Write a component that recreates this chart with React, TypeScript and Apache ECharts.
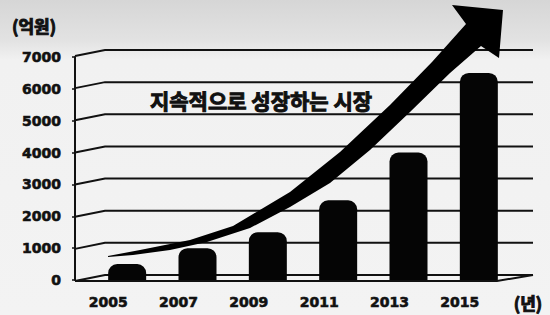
import React, { useEffect, useRef } from "react";
import * as echarts from "echarts";

const years = ["2005", "2007", "2009", "2011", "2013", "2015"];
const revenue = [500, 1000, 1500, 2500, 4000, 6500];
const yMin = 0;
const yMax = 7000;
const yInterval = 1000;
const gridValues = [0, 1000, 2000, 3000, 4000, 5000, 6000, 7000];
const unitLabel = "(억원)";
const yearUnit = "(년)";
const headline = "지속적으로 성장하는 시장";

// decorative growth arrow outline
const arrowPoints = [
  [108, 256], [140, 250], [190, 240], [233, 226], [290, 192], [340, 152],
  [390, 105], [432, 62], [466, 24],
  [452, 5], [503, 10], [499, 58],
  [481, 46], [450, 73], [410, 112], [370, 150], [330, 183], [290, 207],
  [250, 228], [207, 242], [170, 250], [133, 255], [108, 257],
];

const KR = "'Noto Sans CJK KR', 'Noto Sans', sans-serif";
const NUM = "'DejaVu Sans', sans-serif";

export default function App() {
  const ref = useRef<HTMLDivElement>(null);
  useEffect(() => {
    if (!ref.current) return;
    const chart = echarts.init(ref.current, undefined, { renderer: "svg" });
    const lineStyle = { stroke: "#111", lineWidth: 2, fill: "none" };
    const numLabel = {
      color: "#111",
      fontWeight: "bold",
      fontSize: 14,
      fontFamily: NUM,
      textBorderColor: "#111",
      textBorderWidth: 0.6,
    };
    chart.setOption({
      animation: false,
      backgroundColor: "transparent",
      grid: [
        { left: 92, right: 36, top: 57, bottom: 35 },
        { left: 105, right: 17, top: 50, bottom: 40 },
      ],
      xAxis: [
        {
          gridIndex: 0,
          type: "category",
          data: years,
          axisLine: { show: false },
          axisTick: { show: false },
          axisLabel: { ...numLabel, margin: 15, padding: [0, 38, 0, 0] },
        },
        { gridIndex: 1, type: "value", min: 0, max: 1, show: false },
      ],
      yAxis: [
        {
          gridIndex: 0,
          type: "value",
          min: yMin,
          max: yMax,
          interval: yInterval,
          offset: 17,
          axisLine: { show: true, lineStyle: { color: "#111", width: 2 } },
          axisTick: { show: true, length: 3, lineStyle: { color: "#111", width: 1.5 } },
          splitLine: { show: false },
          axisLabel: { ...numLabel, margin: 14, formatter: (v: number) => String(v) },
        },
        { gridIndex: 1, type: "value", min: yMin, max: yMax, interval: yInterval, show: false },
      ],
      series: [
        {
          type: "custom",
          xAxisIndex: 1,
          yAxisIndex: 1,
          silent: true,
          z: 1,
          data: gridValues.map((v) => [0, v]),
          renderItem: (params: any, api: any) => {
            const v = api.value(1);
            const p0 = api.coord([0, v]);
            const p1 = api.coord([1, v]);
            const front = [p0[0] - 30, p0[1] + 6];
            const children: any[] = [
              { type: "polyline", shape: { points: [front, p0, p1] }, style: lineStyle },
            ];
            if (v === 0) {
              children.push({
                type: "polyline",
                shape: { points: [front, [p1[0] - 36, p1[1] + 6], p1] },
                style: lineStyle,
              });
            }
            return { type: "group", children };
          },
        },
        {
          type: "bar",
          xAxisIndex: 0,
          yAxisIndex: 0,
          data: revenue,
          barWidth: 38,
          z: 2,
          itemStyle: { color: "#050505", borderRadius: [9, 9, 0, 0] },
        },
      ],
      graphic: [
        {
          type: "text",
          x: 12,
          y: 25,
          style: {
            text: unitLabel,
            font: `bold 17px ${KR}`,
            fill: "#111",
            stroke: "#111",
            lineWidth: 1,
            verticalAlign: "middle",
          },
        },
        {
          type: "text",
          x: 528,
          y: 302,
          style: {
            text: yearUnit,
            font: `bold 17px ${KR}`,
            fill: "#111",
            stroke: "#111",
            lineWidth: 1,
            align: "center",
            verticalAlign: "middle",
          },
        },
        {
          type: "text",
          x: 261,
          y: 100,
          z: 50,
          style: {
            text: headline,
            font: `bold 21px ${KR}`,
            fill: "#111",
            stroke: "#111",
            lineWidth: 1,
            align: "center",
            verticalAlign: "middle",
          },
        },
        {
          type: "polygon",
          z: 100,
          shape: { points: arrowPoints },
          style: { fill: "#000" },
        },
      ],
    });
    return () => chart.dispose();
  }, []);
  return (
    <div
      ref={ref}
      style={{
        position: "fixed",
        left: 0,
        top: 0,
        width: 550,
        height: 315,
        background:
          "linear-gradient(to bottom, #d6d6d6 0px, #e2e2e2 40px, #f1f1f1 60px, #f3f3f3 315px)",
      }}
    />
  );
}
